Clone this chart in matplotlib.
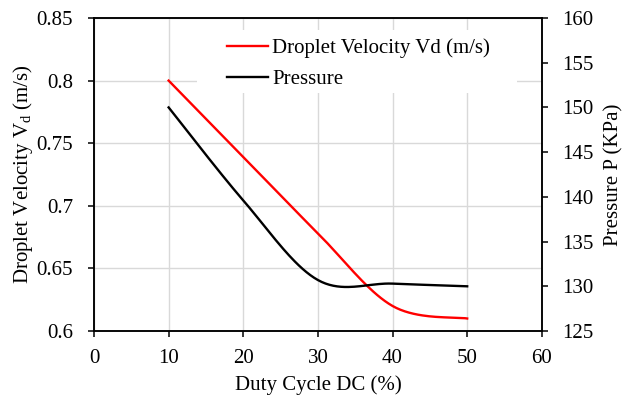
import numpy as np
import matplotlib
matplotlib.use("Agg")
import matplotlib.pyplot as plt
from matplotlib.patches import Rectangle

plt.rcParams['font.family'] = ['Liberation Serif', 'DejaVu Serif']
plt.rcParams['mathtext.fontset'] = 'custom'
plt.rcParams['mathtext.rm'] = 'Liberation Serif'
plt.rcParams['font.size'] = 15

# duty cycle vs droplet velocity and pressure
duty = [10, 20, 30, 40, 50]
velocity = [0.80, 0.739, 0.678, 0.620, 0.610]
pressure = [150.0, 139.6, 130.7, 130.3, 130.0]


def smooth(x, y, n=40):
    # Catmull-Rom style smoothing (like a spreadsheet "smoothed line")
    x = np.asarray(x, float)
    y = np.asarray(y, float)
    px = np.concatenate([[x[0]], x, [x[-1]]])
    py = np.concatenate([[y[0]], y, [y[-1]]])
    xs, ys = [], []
    t = np.linspace(0, 1, n)
    for i in range(1, len(px) - 2):
        p0 = np.array([px[i], py[i]])
        p3 = np.array([px[i + 1], py[i + 1]])
        c1 = p0 + (p3 - np.array([px[i - 1], py[i - 1]])) / 6
        c2 = p3 - (np.array([px[i + 2], py[i + 2]]) - p0) / 6
        b = ((1 - t) ** 3)[:, None] * p0 + (3 * (1 - t) ** 2 * t)[:, None] * c1 \
            + (3 * (1 - t) * t ** 2)[:, None] * c2 + (t ** 3)[:, None] * p3
        xs.extend(b[:, 0])
        ys.extend(b[:, 1])
    return xs, ys


fig = plt.figure(figsize=(6.25, 3.98), dpi=100)
ax = fig.add_axes([0.1504, 0.1683, 0.7165, 0.7865])
ax2 = ax.twinx()

sx, sy = smooth(duty, velocity)
l1, = ax.plot(sx, sy, color='#ff0000', lw=1.7, label='Droplet Velocity Vd (m/s)')
sx, sy = smooth(duty, pressure)
l2, = ax2.plot(sx, sy, color='black', lw=1.7, label='Pressure')

ax.set_xlim(0, 60)
ax.set_ylim(0.6, 0.85)
ax.set_xticks(np.arange(0, 61, 10))
ax.set_yticks([0.6, 0.65, 0.7, 0.75, 0.8, 0.85])
ax.set_yticklabels(['0.6', '0.65', '0.7', '0.75', '0.8', '0.85'])
ax2.set_ylim(125, 160)
ax2.set_yticks(np.arange(125, 161, 5))

ax.grid(True, color='#d9d9d9', lw=1.0)
ax.set_axisbelow(True)

for a in (ax, ax2):
    for s in a.spines.values():
        s.set_linewidth(1.1)
    a.tick_params(direction='out', length=4, width=1.1, labelsize=15)
ax.tick_params(axis='y', pad=11)
ax.tick_params(axis='x', pad=9)
ax2.tick_params(axis='y', pad=11)

ax.set_xlabel('Duty Cycle DC (%)', fontsize=15, labelpad=5)
ax.set_ylabel(r'Droplet Velocity V$_\mathregular{d}$ (m/s)', fontsize=15, labelpad=1)
ax2.set_ylabel('Pressure P (KPa)', fontsize=15, labelpad=7)

# white legend background
ax2.add_patch(Rectangle((0.23, 0.76), 0.714, 0.202, transform=ax2.transAxes,
                        facecolor='white', edgecolor='none', zorder=3))
leg = ax2.legend(handles=[l1, l2], loc='upper left', bbox_to_anchor=(0.297, 0.934),
                 frameon=False, borderpad=0, borderaxespad=0,
                 handlelength=1.97, handletextpad=0.2, labelspacing=0.55,
                 fontsize=15)
leg.set_zorder(4)

fig.savefig('out.png', dpi=100)
